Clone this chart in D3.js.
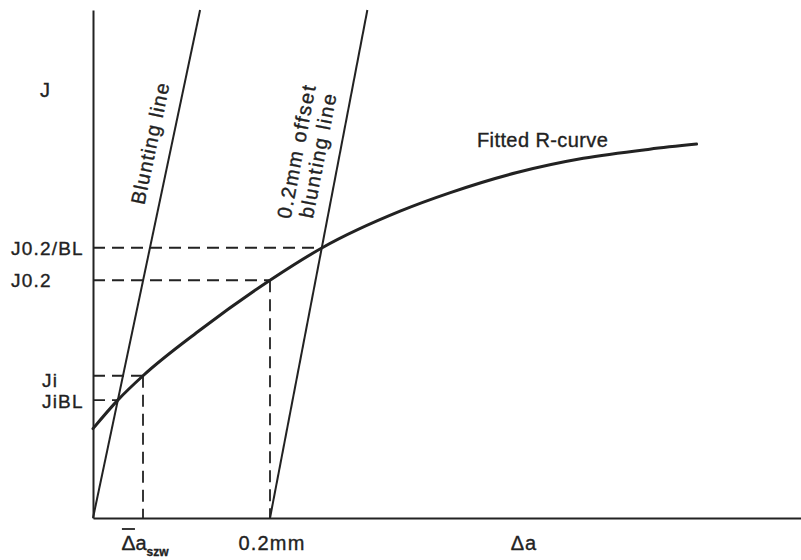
<!DOCTYPE html>
<html>
<head>
<meta charset="utf-8">
<script src="https://cdn.jsdelivr.net/npm/d3@7"></script>
<style>
  body { margin: 0; background: #fff; }
  text { font-family: "Liberation Sans", Arial, sans-serif; fill: #222; stroke: #222; stroke-width: 0.35px; }
</style>
</head>
<body>
<svg id="chart" width="801" height="560"></svg>
<script>
// Fitted R-curve: crack extension Δa (mm) against J
const rCurveDa = [0, 0.028, 0.0565, 0.121, 0.2, 0.259, 0.347, 0.403, 0.479, 0.554, 0.629, 0.682];
const rCurveJ  = [88, 116, 140, 185, 234, 266, 302, 320, 340, 354, 363, 368];

// Blunting line through the origin and the 0.2 mm offset blunting line
const bluntingDa = [0, 0.121];
const bluntingJ  = [0, 500];
const offsetDa   = [0.2, 0.31];
const offsetJ    = [0, 500];

// Marked J levels, where they meet the lines, and whether a drop line goes to the Δa axis
const markLabels = ["J0.2/BL", "J0.2", "Ji", "JiBL"];
const markJ      = [266, 234, 140, 116];
const markDa     = [0.259, 0.2, 0.0565, 0.028];
const markDrop   = [false, true, true, false];

const ink = "#222";
const svg = d3.select("#chart");

const x = d3.scaleLinear().domain([0, 0.8]).range([93, 801]);
const y = d3.scaleLinear().domain([0, 500]).range([518, 10]);

// Axes: bare lines, no ticks
const xAxis = svg.append("g")
  .attr("transform", `translate(0,${y(0)})`)
  .call(d3.axisBottom(x).tickValues([]).tickSizeOuter(0));
const yAxis = svg.append("g")
  .attr("transform", `translate(${x(0)},0)`)
  .call(d3.axisLeft(y).tickValues([]).tickSizeOuter(0));
[xAxis, yAxis].forEach(g => g.select(".domain").attr("stroke", ink).attr("stroke-width", 2));

// Dashed construction lines
const marks = markLabels.map((label, i) => ({ label, j: markJ[i], da: markDa[i], drop: markDrop[i] }));
const dash = svg.append("g").attr("stroke", ink).attr("stroke-width", 1.8)
  .attr("stroke-dasharray", "12,7").attr("fill", "none");
dash.selectAll("line.h").data(marks).join("line").attr("class", "h")
  .attr("x1", x(0)).attr("x2", d => x(d.da))
  .attr("y1", d => y(d.j)).attr("y2", d => y(d.j));
dash.selectAll("line.v").data(marks.filter(d => d.drop)).join("line").attr("class", "v")
  .attr("x1", d => x(d.da)).attr("x2", d => x(d.da))
  .attr("y1", d => y(d.j)).attr("y2", y(0));

// Blunting lines
const straight = d3.line().x(d => x(d[0])).y(d => y(d[1]));
const bluntPts = bluntingDa.map((d, i) => [d, bluntingJ[i]]);
const offsetPts = offsetDa.map((d, i) => [d, offsetJ[i]]);
svg.append("path").attr("d", straight(bluntPts)).attr("fill", "none").attr("stroke", ink).attr("stroke-width", 2);
svg.append("path").attr("d", straight(offsetPts)).attr("fill", "none").attr("stroke", ink).attr("stroke-width", 2);

// R-curve
const curvePts = rCurveDa.map((d, i) => [d, rCurveJ[i]]);
svg.append("path")
  .attr("d", d3.line().x(d => x(d[0])).y(d => y(d[1])).curve(d3.curveMonotoneX)(curvePts))
  .attr("fill", "none").attr("stroke", ink).attr("stroke-width", 3).attr("stroke-linecap", "round");

// Y-side labels
svg.append("text").attr("x", 40).attr("y", 97).attr("font-size", 20).text("J");
const labelX = { "J0.2/BL": 11, "J0.2": 11, "Ji": 42, "JiBL": 42 };
const labelShift = { "J0.2/BL": 0, "J0.2": 0, "Ji": 4, "JiBL": 1 };
svg.selectAll("text.ylab").data(marks).join("text").attr("class", "ylab")
  .attr("x", d => labelX[d.label])
  .attr("y", d => y(d.j) + labelShift[d.label])
  .attr("dy", "0.36em")
  .attr("font-size", 19)
  .attr("letter-spacing", 1.2)
  .text(d => d.label);

// Rotated labels along the blunting lines
const angleOf = pts => Math.atan2(y(pts[1][1]) - y(pts[0][1]), x(pts[1][0]) - x(pts[0][0])) * 180 / Math.PI;
svg.append("text")
  .attr("transform", `translate(150,143) rotate(${angleOf(bluntPts)})`)
  .attr("text-anchor", "middle").attr("dy", "0.36em")
  .attr("font-size", 20).attr("letter-spacing", 1.2)
  .text("Blunting line");
const off = svg.append("g").attr("transform", `translate(307,153) rotate(${angleOf(offsetPts)})`);
off.append("text").attr("text-anchor", "middle").attr("y", -11).attr("dy", "0.36em")
  .attr("font-size", 20).attr("letter-spacing", 1.8).text("0.2mm offset");
off.append("text").attr("text-anchor", "middle").attr("y", 11).attr("dy", "0.36em")
  .attr("font-size", 20).attr("letter-spacing", 1.6).text("blunting line");

// Curve label
svg.append("text").attr("x", 477).attr("y", 147).attr("font-size", 20).attr("letter-spacing", 0.4)
  .text("Fitted R-curve");

// Δa-axis labels
const szw = svg.append("text").attr("x", x(markDa[2]) + 2).attr("y", 550)
  .attr("text-anchor", "middle").attr("font-size", 20);
szw.append("tspan").attr("font-size", 21).text("Δ");
szw.append("tspan").text("a");
szw.append("tspan").attr("font-size", 12).attr("dy", 6).attr("font-weight", "bold").text("szw");
const deltaBox = szw.node().getExtentOfChar(0);
svg.append("line")
  .attr("x1", deltaBox.x + 0.5).attr("x2", deltaBox.x + deltaBox.width - 0.5)
  .attr("y1", 529).attr("y2", 529)
  .attr("stroke", ink).attr("stroke-width", 1.8);

svg.append("text").attr("x", x(0.2) + 2).attr("y", 550).attr("text-anchor", "middle")
  .attr("font-size", 20).attr("letter-spacing", 1.2).text("0.2mm");
svg.append("text").attr("x", 524).attr("y", 550).attr("text-anchor", "middle")
  .attr("font-size", 20).attr("letter-spacing", 1).text("Δa");
</script>
</body>
</html>
